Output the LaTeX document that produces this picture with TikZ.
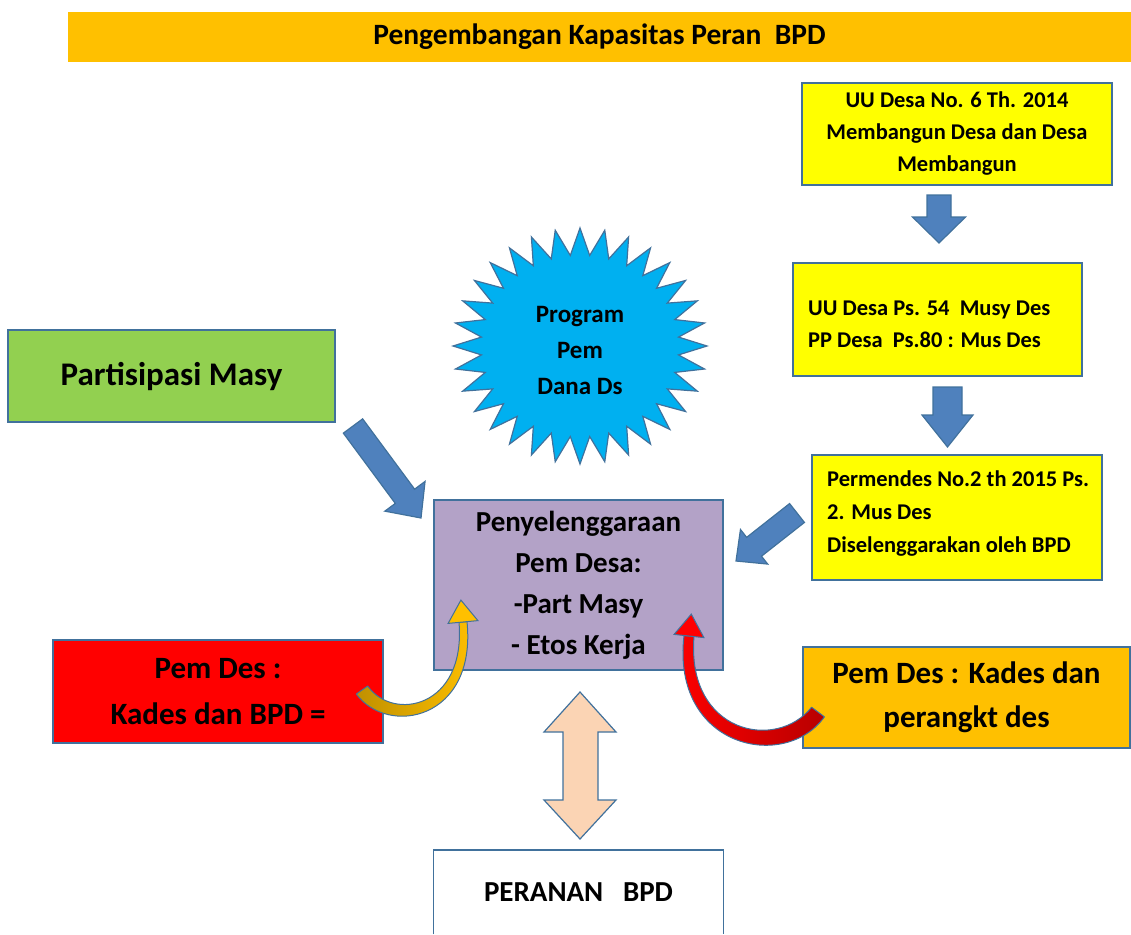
\documentclass[tikz,border=0pt]{standalone}
\usepackage{fontspec}
\setmainfont{Carlito}
\usetikzlibrary{calc}
\definecolor{bord}{HTML}{41719C}
\definecolor{titlebg}{HTML}{FFC000}
\definecolor{ylw}{HTML}{FFFF00}
\definecolor{grn}{HTML}{92D050}
\definecolor{purp}{HTML}{B3A2C7}
\definecolor{redb}{HTML}{FF0000}
\definecolor{orng}{HTML}{FFC000}
\definecolor{starc}{HTML}{00B0F0}
\definecolor{arrowblue}{HTML}{4F81BD}
\definecolor{peach}{HTML}{FBD4B4}
\definecolor{golddark}{HTML}{C09000}
\definecolor{goldhead}{HTML}{FFC000}
\definecolor{reddark}{HTML}{B80000}
\definecolor{redhead}{HTML}{FF0000}
\tikzset{
  box/.style={draw=bord, line width=1.3pt, inner sep=0pt, align=center, text=black},
  txt/.style={inner sep=0pt, text=black},
  blockarr/.style={draw=bord, line width=1.2pt, fill=arrowblue, line join=miter},
  ytext/.style={font=\bfseries\fontsize{22.5}{32}\selectfont},
  curvearr/.style={draw=bord, line width=1pt, line join=round},
}
\newcommand\blockarrow[5]{%
  \coordinate (bah) at ($(#2)!#5!(#1)$);
  \draw[blockarr] ($(#1)!#3!90:(#2)$) -- ($(bah)!#3!90:(#2)$) -- ($(bah)!#4!90:(#2)$) -- (#2)
     -- ($(bah)!#4!-90:(#2)$) -- ($(bah)!#3!-90:(#2)$) -- ($(#1)!#3!-90:(#2)$) -- cycle;}
\begin{document}
\begin{tikzpicture}[x=1pt,y=-1pt]
\useasboundingbox (0,0) rectangle (1131,934);
% title bar
\node[fill=titlebg, minimum width=1063pt, minimum height=50pt, inner sep=0pt,
      font=\bfseries\fontsize{29.5}{32}\selectfont] (title) at (599.5,37) {Pengembangan Kapasitas Peran\ \ BPD};
% yellow boxes
\node[box, fill=ylw, minimum width=310pt, minimum height=102pt, ytext] (u1) at (957,134)
  {UU Desa No. 6 Th. 2014\\Membangun Desa dan Desa\\Membangun};
\node[box, fill=ylw, minimum width=289pt, minimum height=113pt] (u2) at (937.5,319.5) {};
\node[txt, anchor=west, align=left, ytext] (u2t) at (808,324)
  {UU Desa Ps. 54\ \ Musy Des\\PP Desa\ \ Ps.80 : Mus Des};
\node[box, fill=ylw, minimum width=290pt, minimum height=125pt] (u3) at (957,517.5) {};
\node[txt, anchor=west, align=left, font=\bfseries\fontsize{22.5}{33}\selectfont] (u3t) at (827,514)
  {Permendes No.2 th 2015 Ps.\\2. Mus Des\\Diselenggarakan oleh BPD};
% green box
\node[box, fill=grn, minimum width=327pt, minimum height=92pt,
      font=\bfseries\fontsize{33}{38}\selectfont] (pm) at (171.5,376) {Partisipasi Masy};
% star
\draw[draw=bord, line width=1.2pt, fill=starc, line join=miter]
  (707,346) \foreach \i in {1,...,63} {
    -- ({580+(127-28*mod(\i,2))*cos(\i*5.625)}, {346+(118-27*mod(\i,2))*sin(\i*5.625)}) } -- cycle;
\node[txt, align=center, font=\bfseries\fontsize{25}{36}\selectfont] (star) at (580,350)
  {Program\\Pem\\Dana Ds};
% center box
\node[box, fill=purp, minimum width=289pt, minimum height=170pt,
      font=\bfseries\fontsize{29}{41}\selectfont] (pen) at (578.5,585)
  {Penyelenggaraan\\Pem Desa:\\-Part Masy\\- Etos Kerja};
% red box
\node[box, fill=redb, minimum width=330pt, minimum height=103pt,
      font=\bfseries\fontsize{31}{46}\selectfont] (kb) at (218,691.5) {Pem Des :\\Kades dan BPD =};
% orange box
\node[box, fill=orng, minimum width=327pt, minimum height=101pt,
      font=\bfseries\fontsize{31}{44}\selectfont] (kp) at (966.5,697.5) {Pem Des : Kades dan\\perangkt des};
% bottom box (cut by the page edge)
\node[txt, minimum width=289pt, minimum height=84pt, anchor=north, fill=white,
      font=\bfseries\fontsize{29}{34}\selectfont] (per) at (578.5,850) {\raisebox{-5pt}{PERANAN\ \ \ BPD}};
\draw[draw=bord, line width=1.3pt] (per.south west) -- (per.north west) -- (per.north east) -- (per.south east);
% blue block arrows
\coordinate (d1s) at (939,195);   \coordinate (d1e) at (939,243);
\coordinate (d2s) at (947.5,387); \coordinate (d2e) at (947.5,447);
\coordinate (lds) at (353,426);   \coordinate (lde) at (421,518);
\coordinate (rds) at (797,513);   \coordinate (rde) at (736,561);
\blockarrow{d1s}{d1e}{12pt}{26.5pt}{26pt}
\blockarrow{d2s}{d2e}{14.5pt}{25.5pt}{32pt}
\blockarrow{lds}{lde}{12pt}{25pt}{27pt}
\blockarrow{rds}{rde}{12pt}{22pt}{23pt}
% peach double arrow
\coordinate (dt) at (580,692);
\coordinate (db) at (580,839);
\draw[draw=bord, line width=1.2pt, fill=peach, line join=miter]
  (dt) -- ($(dt)+(36,40)$) -- ($(dt)+(18,40)$) -- ($(db)+(18,-39)$) -- ($(db)+(36,-39)$) -- (db)
  -- ($(db)+(-36,-39)$) -- ($(db)+(-17,-39)$) -- ($(dt)+(-17,40)$) -- ($(dt)+(-36,40)$) -- cycle;
% yellow curved arrow (tapered body, from the red box to the centre box)
\coordinate (yso) at (356.3,694);  \coordinate (ysi) at (367.7,686);
\coordinate (yeo) at (467,621.6);  \coordinate (yei) at (459,622.4);
\draw[curvearr, left color=golddark, right color=goldhead]
  (yso) .. controls (388,737) and (477,720) .. (yeo) -- (yei)
  .. controls (466,708) and (393,722) .. (ysi) -- cycle;
\coordinate (yt) at (460.9,600.1);
\draw[draw=bord, fill=goldhead, line width=1pt, line join=miter]
  (yt) -- (477.9,620.6) -- (448.1,623.4) -- cycle;
% red curved arrow (tapered body, from the orange box to the centre box)
\coordinate (rso) at (824.4,716.8); \coordinate (rsi) at (811.6,707.2);
\coordinate (reo) at (684,635.5);   \coordinate (rei) at (694,636.5);
\draw[curvearr, right color=reddark, left color=redhead]
  (rso) .. controls (785,772) and (671,748) .. (reo) -- (rei)
  .. controls (686,733) and (776,752) .. (rsi) -- cycle;
\coordinate (rt) at (691.3,614.1);
\draw[draw=bord, fill=redhead, line width=1pt, line join=miter]
  (rt) -- (703.9,637.6) -- (674.1,634.4) -- cycle;
\end{tikzpicture}
\end{document}
